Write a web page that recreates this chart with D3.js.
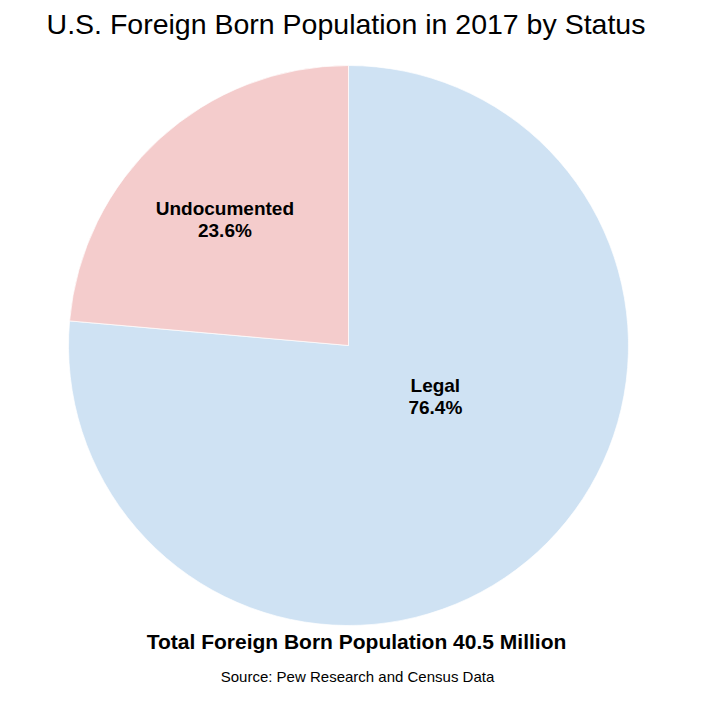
<!DOCTYPE html>
<html>
<head>
<meta charset="utf-8">
<script src="https://cdn.jsdelivr.net/npm/d3@7"></script>
<style>
  body { margin: 0; background: #fff; }
  text { font-family: "Liberation Sans", Arial, sans-serif; }
</style>
</head>
<body>
<div id="chart-area"></div>
<script>
// data
const statuses = ["Legal", "Undocumented"];
const shares = [76.4, 23.6];
const totalMillions = 40.5;

const WIDTH = 709;
const HEIGHT = 728;
const CENTER = { X: 348.5, Y: 345.5 };
const RADIUS = 280;

const colors = d3.scaleOrdinal()
  .domain(statuses)
  .range(["#cfe2f3", "#f4cccc"]);

// where each label sits, as fraction of radius + angle nudge (deg)
const labelPlace = {
  Legal: { r: 0.36, shift: -17 },
  Undocumented: { r: 0.63, shift: -2 }
};

const data = statuses.map((s, i) => ({ status: s, share: shares[i] }));

const svg = d3.select("#chart-area").append("svg")
  .attr("width", WIDTH)
  .attr("height", HEIGHT);

svg.append("text")
  .attr("x", 346)
  .attr("y", 34)
  .attr("text-anchor", "middle")
  .attr("font-size", 28.5)
  .attr("fill", "#000")
  .text("U.S. Foreign Born Population in 2017 by Status");

const pie = d3.pie()
  .value(d => d.share)
  .sort(null);

const arc = d3.arc()
  .innerRadius(0)
  .outerRadius(RADIUS);

const g = svg.append("g")
  .attr("transform", `translate(${CENTER.X}, ${CENTER.Y})`);

const slices = pie(data);

g.selectAll("path").data(slices)
  .enter().append("path")
    .attr("d", arc)
    .attr("fill", d => colors(d.data.status))
    .attr("stroke", "#fff")
    .attr("stroke-width", 0.7);

const labels = g.selectAll("text.label").data(slices)
  .enter().append("text")
    .attr("class", "label")
    .attr("text-anchor", "middle")
    .attr("font-size", 19)
    .attr("font-weight", "bold")
    .attr("fill", "#000")
    .attr("transform", d => {
      const p = labelPlace[d.data.status];
      const a = (d.startAngle + d.endAngle) / 2 + p.shift * Math.PI / 180;
      const r = p.r * RADIUS;
      return `translate(${r * Math.sin(a)}, ${-r * Math.cos(a)})`;
    });

labels.append("tspan")
  .attr("x", 0)
  .attr("y", -5)
  .text(d => d.data.status);

labels.append("tspan")
  .attr("x", 0)
  .attr("y", 17)
  .text(d => d3.format(".1f")(d.data.share) + "%");

svg.append("text")
  .attr("x", 356.5)
  .attr("y", 649)
  .attr("text-anchor", "middle")
  .attr("font-size", 21)
  .attr("font-weight", "bold")
  .attr("fill", "#000")
  .text(`Total Foreign Born Population ${totalMillions} Million`);

svg.append("text")
  .attr("x", 357.5)
  .attr("y", 682)
  .attr("text-anchor", "middle")
  .attr("font-size", 15)
  .attr("fill", "#000")
  .text("Source: Pew Research and Census Data");
</script>
</body>
</html>
